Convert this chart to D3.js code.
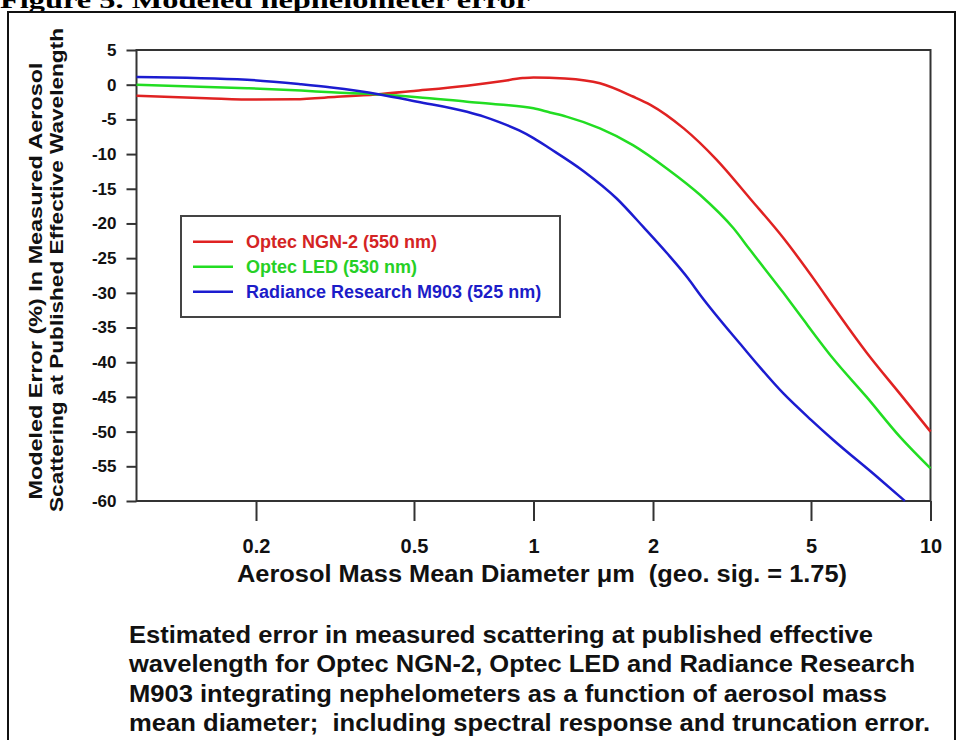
<!DOCTYPE html>
<html>
<head>
<meta charset="utf-8">
<script src="https://cdn.jsdelivr.net/npm/d3@7"></script>
<style>
	body { margin: 0; background: #fff; }
	svg { display: block; }
	.axis text { font-family: "Liberation Sans", Arial, sans-serif; font-weight: bold; fill: #111; }
	.axis line { stroke: #333; stroke-width: 2; }
</style>
</head>
<body>
<div id="chart"></div>
<script>
// series: diameter (um) and modeled error (%)
var ngn2Diam = [0.1, 0.15, 0.2, 0.25, 0.32, 0.4, 0.5, 0.68, 0.82, 0.94, 1.0, 1.2, 1.47, 1.78, 1.97, 2.39, 2.89, 3.51, 4.26, 5.17, 5.69, 6.9, 8.39, 10];
var ngn2Err = [-1.6, -1.95, -2.15, -2.1, -1.75, -1.4, -0.9, -0.15, 0.45, 0.95, 1.05, 0.9, 0.2, -1.7, -2.9, -6.3, -10.8, -16.4, -22.1, -28.6, -32.0, -38.6, -44.6, -50.0];

var ledDiam = [0.1, 0.19, 0.26, 0.31, 0.41, 0.51, 0.68, 0.82, 1.0, 1.1, 1.21, 1.47, 1.78, 2.17, 2.63, 3.19, 3.51, 4.26, 4.69, 5.69, 6.9, 8.39, 10];
var ledErr = [0.0, -0.5, -0.85, -1.1, -1.4, -1.8, -2.45, -2.85, -3.4, -4.0, -4.6, -6.3, -8.7, -12.1, -15.9, -20.7, -23.8, -30.0, -33.2, -39.5, -45.0, -50.8, -55.3];

var rrDiam = [0.1, 0.19, 0.26, 0.31, 0.41, 0.51, 0.68, 0.75, 0.82, 0.92, 1.0, 1.1, 1.34, 1.62, 1.89, 2.17, 2.45, 2.63, 3.31, 4.26, 5.0, 5.69, 7.33, 8.62];
var rrErr = [1.1, 0.7, 0.06, -0.4, -1.4, -2.45, -3.9, -4.6, -5.4, -6.6, -7.7, -9.2, -12.5, -16.4, -20.5, -24.3, -27.9, -30.3, -37.3, -44.5, -48.3, -51.2, -56.5, -60.0];

var seriesNames = ["Optec NGN-2 (550 nm)", "Optec LED (530 nm)", "Radiance Research M903 (525 nm)"];
var seriesColors = ["#e02222", "#22dd22", "#1c1cd0"];
var labelColors = ["#d42424", "#26d026", "#1c1cc8"];

var xTicks = [0.2, 0.5, 1, 2, 5, 10];
var yTicks = d3.range(-60, 6, 5);

var captionLines = [
	"Estimated error in measured scattering at published effective",
	"wavelength for Optec NGN-2, Optec LED and Radiance Research",
	"M903 integrating nephelometers as a function of aerosol mass",
	"mean diameter;  including spectral response and truncation error."
];
var captionWidths = [744, 786, 758, 801];

var width = 958,
	height = 740,
	plot = { left: 136.5, right: 930.5, top: 50, bottom: 501 };

var series = [
	{ x: ngn2Diam, y: ngn2Err },
	{ x: ledDiam, y: ledErr },
	{ x: rrDiam, y: rrErr }
];

var svg = d3.select('#chart').append('svg')
	.attr('width', width)
	.attr('height', height);

svg.append('rect')
	.attr('width', width)
	.attr('height', height)
	.attr('fill', '#fff');

// page frame and the figure title, cut at the top as in the scan
svg.append('text')
	.attr('x', 0)
	.attr('y', 8)
	.attr('font-family', '"Liberation Serif", "Times New Roman", serif')
	.attr('font-weight', 'bold')
	.attr('font-size', 24)
	.attr('textLength', 530)
	.attr('lengthAdjust', 'spacingAndGlyphs')
	.attr('fill', '#000')
	.text('Figure 5. Modeled nephelometer error');

svg.append('path')
	.attr('d', 'M8,740V12H955V740')
	.attr('fill', 'none')
	.attr('stroke', '#111')
	.attr('stroke-width', 2);

var x = d3.scaleLog()
	.domain([0.1, 10])
	.range([plot.left, plot.right]);

var y = d3.scaleLinear()
	.domain([-60, 5])
	.range([plot.bottom, plot.top]);

var xAxis = d3.axisBottom(x)
	.tickValues(xTicks)
	.tickFormat(function(d){ return String(d); })
	.tickSize(20)
	.tickPadding(18);

var yAxis = d3.axisLeft(y)
	.tickValues(yTicks)
	.tickFormat(function(d){ return String(d); })
	.tickSize(10)
	.tickPadding(10);

svg.append('g')
	.attr('class', 'x axis')
	.attr('transform', 'translate(0,' + plot.bottom + ')')
	.call(xAxis)
	.call(function(g){ g.select('.domain').remove(); })
	.selectAll('text')
	.attr('font-size', 20);

svg.append('g')
	.attr('class', 'y axis')
	.attr('transform', 'translate(' + plot.left + ',0)')
	.call(yAxis)
	.call(function(g){ g.select('.domain').remove(); })
	.selectAll('text')
	.attr('font-size', 17);

svg.append('rect')
	.attr('x', plot.left)
	.attr('y', plot.top)
	.attr('width', plot.right - plot.left)
	.attr('height', plot.bottom - plot.top)
	.attr('fill', 'none')
	.attr('stroke', '#333')
	.attr('stroke-width', 2);

var line = d3.line()
	.x(function(d){ return x(d[0]); })
	.y(function(d){ return y(d[1]); })
	.curve(d3.curveMonotoneX);

svg.append('g')
	.selectAll('path')
	.data(series)
	.enter().append('path')
	.attr('fill', 'none')
	.attr('stroke', function(d, i){ return seriesColors[i]; })
	.attr('stroke-width', 2.5)
	.attr('d', function(d){
		return line(d.x.map(function(v, i){ return [v, d.y[i]]; }));
	});

// legend
var legend = svg.append('g')
	.attr('transform', 'translate(181,216)');

legend.append('rect')
	.attr('width', 379)
	.attr('height', 101)
	.attr('fill', '#fff')
	.attr('stroke', '#444')
	.attr('stroke-width', 2);

var item = legend.selectAll('.item')
	.data(seriesNames)
	.enter().append('g')
	.attr('class', 'item')
	.attr('transform', function(d, i){
		return 'translate(0,' + (25.7 + i * 25) + ')';
	});

item.append('line')
	.attr('x1', 12)
	.attr('x2', 52)
	.attr('stroke', function(d, i){ return seriesColors[i]; })
	.attr('stroke-width', 2.5);

item.append('text')
	.attr('x', 65)
	.attr('y', 6.5)
	.attr('font-family', '"Liberation Sans", Arial, sans-serif')
	.attr('font-weight', 'bold')
	.attr('font-size', 18)
	.attr('fill', function(d, i){ return labelColors[i]; })
	.text(function(d){ return d; });

// axis titles
var yTitle = svg.append('g')
	.attr('font-family', '"Liberation Sans", Arial, sans-serif')
	.attr('font-weight', 'bold')
	.attr('font-size', 18)
	.attr('fill', '#111')
	.attr('text-anchor', 'middle');

yTitle.append('text')
	.attr('transform', 'translate(41.5,281) rotate(-90)')
	.attr('textLength', 437)
	.attr('lengthAdjust', 'spacingAndGlyphs')
	.text('Modeled Error (%) In Measured Aerosol');

yTitle.append('text')
	.attr('transform', 'translate(63,270) rotate(-90)')
	.attr('textLength', 484)
	.attr('lengthAdjust', 'spacingAndGlyphs')
	.text('Scattering at Published Effective Wavelength');

svg.append('text')
	.attr('x', 237)
	.attr('y', 582)
	.attr('font-family', '"Liberation Sans", Arial, sans-serif')
	.attr('font-weight', 'bold')
	.attr('font-size', 23)
	.attr('fill', '#111')
	.attr('textLength', 610)
	.attr('lengthAdjust', 'spacingAndGlyphs')
	.style('white-space', 'pre')
	.text('Aerosol Mass Mean Diameter \u03bcm  (geo. sig. = 1.75)');

// caption
svg.append('g')
	.selectAll('text')
	.data(captionLines)
	.enter().append('text')
	.attr('x', 129)
	.attr('y', function(d, i){ return 643 + i * 29.3; })
	.attr('font-family', '"Liberation Sans", Arial, sans-serif')
	.attr('font-weight', 'bold')
	.attr('font-size', 24)
	.attr('fill', '#111')
	.attr('textLength', function(d, i){ return captionWidths[i]; })
	.attr('lengthAdjust', 'spacingAndGlyphs')
	.style('white-space', 'pre')
	.text(function(d){ return d; });
</script>
</body>
</html>
